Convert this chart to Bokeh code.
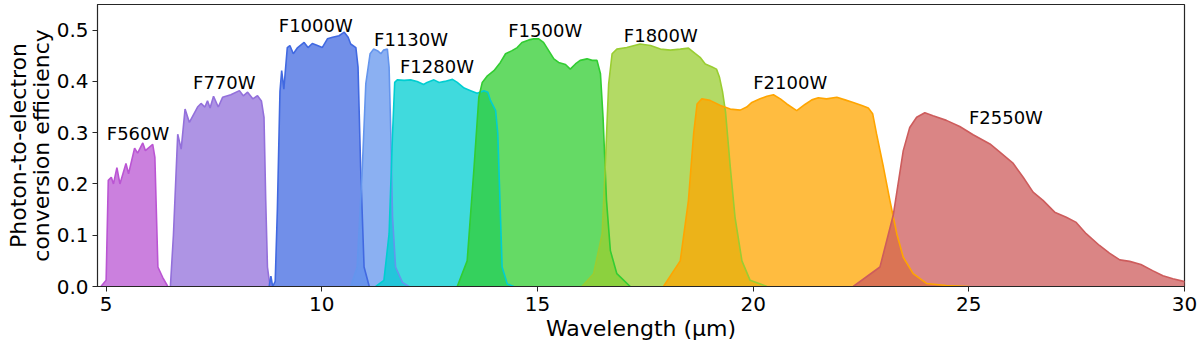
from bokeh.plotting import figure
from bokeh.models import Range1d, FixedTicker
from bokeh.core.properties import value
from bokeh.embed import file_html
from bokeh.resources import INLINE

FONT = "DejaVu Sans"

filter_names = ["F560W", "F770W", "F1000W", "F1130W", "F1280W",
                "F1500W", "F1800W", "F2100W", "F2550W"]
filter_colors = ["mediumorchid", "mediumpurple", "royalblue", "cornflowerblue",
                 "darkturquoise", "limegreen", "yellowgreen", "orange", "indianred"]

f560w_wl = [4.88, 5.0, 5.05, 5.12, 5.17, 5.25, 5.32, 5.46, 5.52, 5.66, 5.73, 5.85,
            5.91, 6.08, 6.13, 6.2, 6.31, 6.43]
f560w_eff = [0, 0.012, 0.207, 0.213, 0.20, 0.232, 0.20, 0.24, 0.22, 0.27, 0.26, 0.28,
             0.265, 0.277, 0.252, 0.038, 0.018, 0]

f770w_wl = [6.49, 6.56, 6.64, 6.66, 6.74, 6.83, 6.93, 7.12, 7.2, 7.29, 7.35, 7.41, 7.49,
            7.6, 7.7, 7.89, 8.09, 8.18, 8.28, 8.4, 8.51, 8.6, 8.66, 8.70, 8.74, 8.80]
f770w_eff = [0, 0.10, 0.258, 0.297, 0.268, 0.346, 0.32, 0.35, 0.357, 0.35, 0.362, 0.348,
             0.371, 0.35, 0.369, 0.374, 0.382, 0.372, 0.379, 0.366, 0.372, 0.362, 0.33,
             0.168, 0.038, 0]

f1000w_wl = [8.78, 8.82, 8.86, 8.92, 8.97, 9.03, 9.07, 9.12, 9.2, 9.26, 9.34, 9.44, 9.59,
             9.68, 9.78, 9.9, 10.01, 10.13, 10.25, 10.4, 10.52, 10.61, 10.67, 10.79,
             10.84, 10.9, 10.98, 11.1]
f1000w_eff = [0, 0.02, 0.0, 0.01, 0.15, 0.38, 0.421, 0.385, 0.466, 0.47, 0.454, 0.466,
              0.476, 0.466, 0.474, 0.47, 0.466, 0.483, 0.486, 0.489, 0.496, 0.486, 0.473,
              0.466, 0.428, 0.233, 0.038, 0]

f1130w_wl = [10.67, 10.82, 10.94, 11.02, 11.12, 11.2, 11.29, 11.37, 11.43, 11.52, 11.56,
             11.6, 11.64, 11.71, 11.87, 12.02]
f1130w_eff = [0, 0.038, 0.233, 0.395, 0.454, 0.463, 0.46, 0.454, 0.461, 0.463, 0.428,
              0.298, 0.135, 0.038, 0.008, 0]

f1280w_wl = [11.25, 11.44, 11.56, 11.64, 11.69, 11.75, 11.91, 12.06, 12.21, 12.36, 12.44,
             12.6, 12.72, 12.85, 13.03, 13.14, 13.3, 13.45, 13.6, 13.76, 13.85, 13.91,
             14.03, 14.08, 14.13, 14.18, 14.3, 14.45]
f1280w_eff = [0, 0.012, 0.103, 0.298, 0.398, 0.403, 0.402, 0.403, 0.4, 0.394, 0.398,
              0.403, 0.398, 0.4, 0.404, 0.398, 0.387, 0.382, 0.377, 0.382, 0.379, 0.363,
              0.343, 0.298, 0.168, 0.038, 0.005, 0]

f1500w_wl = [13.14, 13.37, 13.53, 13.64, 13.72, 13.84, 13.99, 14.14, 14.26, 14.41, 14.53,
             14.64, 14.8, 14.91, 15.03, 15.14, 15.26, 15.38, 15.49, 15.65, 15.76, 15.88,
             15.99, 16.15, 16.27, 16.38, 16.46, 16.52, 16.6, 16.69, 16.84, 17.15]
f1500w_eff = [0, 0.05, 0.233, 0.369, 0.398, 0.411, 0.421, 0.437, 0.454, 0.46, 0.466,
              0.476, 0.481, 0.483, 0.483, 0.476, 0.46, 0.444, 0.437, 0.433, 0.424, 0.434,
              0.441, 0.444, 0.441, 0.441, 0.415, 0.33, 0.168, 0.07, 0.025, 0]

f1800w_wl = [16.03, 16.3, 16.5, 16.57, 16.65, 16.73, 16.84, 17.07, 17.38, 17.62, 17.85,
             18.08, 18.31, 18.5, 18.66, 18.77, 18.89, 19.05, 19.15, 19.22, 19.29, 19.36,
             19.47, 19.58, 19.74, 19.93, 20.32]
f1800w_eff = [0, 0.025, 0.103, 0.233, 0.395, 0.454, 0.463, 0.466, 0.473, 0.47, 0.463,
              0.461, 0.463, 0.465, 0.454, 0.447, 0.434, 0.428, 0.424, 0.408, 0.38, 0.34,
              0.233, 0.135, 0.05, 0.012, 0]

f2100w_wl = [17.92, 18.31, 18.5, 18.62, 18.7, 18.81, 19.0, 19.24, 19.47, 19.7, 19.85,
             19.97, 20.16, 20.32, 20.47, 20.63, 20.78, 21.01, 21.2, 21.36, 21.51, 21.7,
             21.94, 22.13, 22.32, 22.52, 22.67, 22.77, 22.86, 23.02, 23.17, 23.33, 23.48,
             23.71, 24.02, 24.48, 25.0]
f2100w_eff = [0, 0.05, 0.168, 0.298, 0.356, 0.366, 0.363, 0.353, 0.346, 0.344, 0.35,
              0.359, 0.366, 0.371, 0.374, 0.366, 0.356, 0.343, 0.355, 0.364, 0.368, 0.366,
              0.369, 0.364, 0.359, 0.353, 0.348, 0.337, 0.298, 0.233, 0.168, 0.103, 0.057,
              0.025, 0.006, 0.002, 0]

f2550w_wl = [22.32, 22.94, 23.25, 23.48, 23.63, 23.79, 23.98, 24.17, 24.48, 24.79, 25.1,
             25.49, 25.72, 26.03, 26.26, 26.49, 26.72, 26.99, 27.26, 27.49, 27.72, 28.03,
             28.26, 28.5, 28.73, 28.99, 29.26, 29.5, 29.73, 29.98, 30.2]
f2550w_eff = [0, 0.038, 0.14, 0.265, 0.31, 0.33, 0.339, 0.333, 0.324, 0.312, 0.296,
              0.278, 0.262, 0.24, 0.213, 0.184, 0.168, 0.145, 0.135, 0.125, 0.103, 0.08,
              0.065, 0.052, 0.049, 0.043, 0.031, 0.021, 0.015, 0.01, 0.007]

label_x = [5.74, 7.74, 9.86, 12.07, 12.67, 15.18, 17.86, 20.86, 25.86]
label_y = [0.299, 0.398, 0.509, 0.481, 0.429, 0.500, 0.489, 0.398, 0.329]

x_ticks = [5, 10, 15, 20, 25, 30]
y_ticks = [0.0, 0.1, 0.2, 0.3, 0.4, 0.5]

curves = [(f560w_wl, f560w_eff), (f770w_wl, f770w_eff), (f1000w_wl, f1000w_eff),
          (f1130w_wl, f1130w_eff), (f1280w_wl, f1280w_eff), (f1500w_wl, f1500w_eff),
          (f1800w_wl, f1800w_eff), (f2100w_wl, f2100w_eff), (f2550w_wl, f2550w_eff)]

p = figure(width=1200, height=348, output_backend="svg", toolbar_location=None,
           x_range=Range1d(4.8, 30.0), y_range=Range1d(0.0, 0.55),
           min_border_left=97, min_border_right=16, min_border_top=4, min_border_bottom=62)
p.grid.visible = False
p.outline_line_color = "#262626"
p.outline_line_width = 1.2
p.background_fill_color = "white"

for (wl, eff), col in zip(curves, filter_colors):
    p.varea(x=wl, y1=[0] * len(wl), y2=eff, fill_color=col, fill_alpha=0.75)
for (wl, eff), col in zip(curves, filter_colors):
    p.line(x=wl, y=eff, line_color=col, line_width=1.6)

p.text(x=label_x, y=label_y, text=filter_names, text_font=value(FONT),
       text_font_size="18px", text_align="center", text_baseline="alphabetic",
       text_color="black")

for ax in (p.xaxis[0], p.yaxis[0]):
    ax.major_label_text_font = FONT
    ax.major_label_text_font_size = "20px"
    ax.major_label_text_color = "black"
    ax.axis_label_text_font = FONT
    ax.axis_label_text_font_size = "22px"
    ax.axis_label_text_font_style = "normal"
    ax.axis_label_text_color = "black"
    ax.minor_tick_line_color = None
    ax.major_tick_in = 0
    ax.major_tick_out = 5
    ax.major_tick_line_color = "#262626"
    ax.axis_line_color = "#262626"

p.xaxis.ticker = FixedTicker(ticks=x_ticks)
p.yaxis.ticker = FixedTicker(ticks=y_ticks)
p.yaxis.major_label_overrides = {0.0: "0.0", 0.1: "0.1", 0.2: "0.2", 0.3: "0.3",
                                 0.4: "0.4", 0.5: "0.5"}
p.xaxis.axis_label = "Wavelength (\u03bcm)"
p.yaxis.axis_label = "Photon-to-electron\nconversion efficiency"
p.xaxis.major_label_standoff = 5
p.yaxis.major_label_standoff = 4
p.xaxis.axis_label_standoff = 2
p.yaxis.axis_label_standoff = 0
p.yaxis.axis_label_text_line_height = 0.9

open("out.html", "w").write(file_html(p, INLINE))
